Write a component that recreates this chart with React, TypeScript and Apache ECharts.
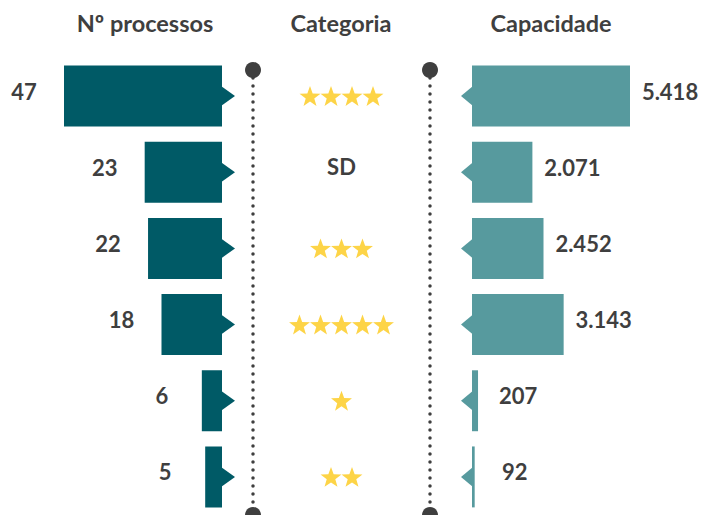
import React, { useEffect, useRef } from "react";
import * as echarts from "echarts";

const processos = [47, 23, 22, 18, 6, 5];
const capacidade = [5418, 2071, 2452, 3143, 207, 92];
const estrelas = [4, 0, 3, 5, 1, 2]; // 0 = "SD"
const linhas = ["1", "2", "3", "4", "5", "6"];
const titulos = ["Nº processos", "Categoria", "Capacidade"];

const LEFT = "#005a66";
const RIGHT = "#579a9e";
const TEXT = "#3f3f3f";
const STAR = "#fdd447";
const FONT = "Lato, 'Open Sans', sans-serif";

const fmt = (v: number) => String(v).replace(/\B(?=(\d{3})+(?!\d))/g, ".");

function starPoints(cx: number, cy: number, R: number, r: number) {
  const pts: number[][] = [];
  for (let i = 0; i < 10; i++) {
    const rad = i % 2 === 0 ? R : r;
    const a = -Math.PI / 2 + (i * Math.PI) / 5;
    pts.push([cx + rad * Math.cos(a), cy + rad * Math.sin(a)]);
  }
  return pts;
}

export default function App() {
  const ref = useRef<HTMLDivElement>(null);
  useEffect(() => {
    if (!ref.current) return;
    const chart = echarts.init(ref.current, null, { renderer: "svg" });
    const labelStyle = (text: string, size = 22) => ({
      text,
      fill: TEXT,
      fontSize: size,
      fontWeight: "bold",
      fontFamily: FONT,
      align: "center",
      verticalAlign: "middle",
    });
    const gridTop = 58;
    const gridH = 457;
    const dotted = (x: number) => [
      {
        type: "line",
        shape: { x1: x, y1: 78, x2: x, y2: 512 },
        style: { stroke: TEXT, lineWidth: 3.5, lineDash: [0, 8], lineCap: "round" },
        z: 1,
      },
      { type: "circle", shape: { cx: x, cy: 70, r: 8 }, style: { fill: TEXT }, z: 2 },
      { type: "circle", shape: { cx: x, cy: 515, r: 8 }, style: { fill: TEXT }, z: 2 },
    ];
    const option: any = {
      animation: false,
      grid: [
        { left: 64, width: 158, top: gridTop, height: gridH },
        { left: 253, width: 177, top: gridTop, height: gridH },
        { left: 472, width: 158, top: gridTop, height: gridH },
      ],
      xAxis: [
        { type: "value", gridIndex: 0, inverse: true, min: 0, max: 47, show: false },
        { type: "value", gridIndex: 1, min: -1, max: 1, show: false },
        { type: "value", gridIndex: 2, min: 0, max: 5418, show: false },
      ],
      yAxis: [0, 1, 2].map((g) => ({
        type: "category",
        gridIndex: g,
        data: linhas,
        inverse: true,
        show: false,
      })),
      graphic: [
        { type: "text", x: 145, y: 23, style: labelStyle(titulos[0], 23.5) },
        { type: "text", x: 341, y: 23, style: labelStyle(titulos[1], 23.5) },
        { type: "text", x: 551, y: 23, style: labelStyle(titulos[2], 23.5) },
        ...dotted(253),
        ...dotted(430),
      ],
      series: [
        {
          type: "custom",
          xAxisIndex: 0,
          yAxisIndex: 0,
          data: processos.map((v, i) => [v, i]),
          encode: { x: 0, y: 1 },
          renderItem: (params: any, api: any) => {
            const v = api.value(0);
            const idx = api.value(1);
            const end = api.coord([0, idx]);
            const start = api.coord([v, idx]);
            const h = api.size([0, 1])[1] * 0.8;
            const cy = end[1];
            const x0 = start[0];
            const x1 = end[0];
            return {
              type: "group",
              children: [
                { type: "rect", shape: { x: x0, y: cy - h / 2, width: x1 - x0, height: h }, style: { fill: LEFT } },
                { type: "polygon", shape: { points: [[x1 - 1, cy - 10], [x1 + 13, cy], [x1 - 1, cy + 10]] }, style: { fill: LEFT } },
                { type: "text", x: x0 - 40, y: cy - 5, style: labelStyle(fmt(v)) },
              ],
            };
          },
        },
        {
          type: "custom",
          xAxisIndex: 1,
          yAxisIndex: 1,
          data: estrelas.map((n, i) => [0, i, n]),
          encode: { x: 0, y: 1 },
          renderItem: (params: any, api: any) => {
            const idx = api.value(1);
            const n = api.value(2);
            const c = api.coord([0, idx]);
            if (!n) {
              return { type: "text", x: c[0], y: c[1] - 6, style: labelStyle("SD") };
            }
            const step = 21;
            const children: any[] = [];
            for (let k = 0; k < n; k++) {
              const cx = c[0] + (k - (n - 1) / 2) * step;
              children.push({
                type: "polygon",
                shape: { points: starPoints(cx, c[1] + 1, 11, 4.5) },
                style: { fill: STAR },
              });
            }
            return { type: "group", children };
          },
        },
        {
          type: "custom",
          xAxisIndex: 2,
          yAxisIndex: 2,
          data: capacidade.map((v, i) => [v, i]),
          encode: { x: 0, y: 1 },
          renderItem: (params: any, api: any) => {
            const v = api.value(0);
            const idx = api.value(1);
            const start = api.coord([0, idx]);
            const end = api.coord([v, idx]);
            const h = api.size([0, 1])[1] * 0.8;
            const cy = start[1];
            const x0 = start[0];
            const x1 = end[0];
            return {
              type: "group",
              children: [
                { type: "rect", shape: { x: x0, y: cy - h / 2, width: x1 - x0, height: h }, style: { fill: RIGHT } },
                { type: "polygon", shape: { points: [[x0 + 1, cy - 10], [x0 - 11, cy], [x0 + 1, cy + 10]] }, style: { fill: RIGHT } },
                { type: "text", x: x1 + 40, y: cy - 5, style: labelStyle(fmt(v)) },
              ],
            };
          },
        },
      ],
    };
    chart.setOption(option);
    return () => chart.dispose();
  }, []);
  return <div ref={ref} style={{ width: 701, height: 515, position: "absolute", left: 0, top: 0 }} />;
}
